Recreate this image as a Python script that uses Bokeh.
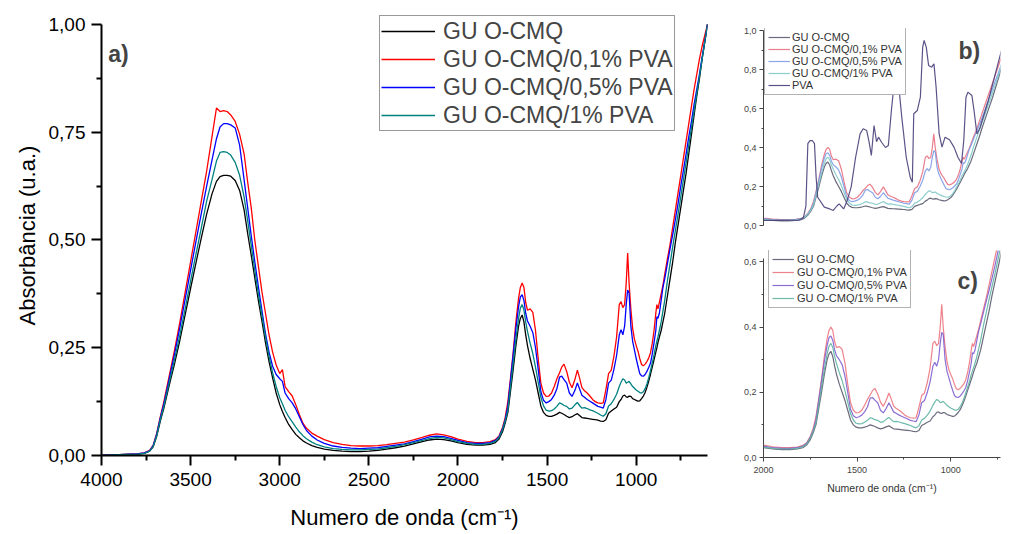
from bokeh.plotting import figure
from bokeh.layouts import row, column
from bokeh.models import (Range1d, FixedTicker, Legend, LegendItem, Label,
                          CustomJSTickFormatter, ColumnDataSource)
from bokeh.embed import file_html
from bokeh.resources import INLINE

# ---------------- data ----------------
wavenumber = [
    4000, 3900, 3800, 3760, 3730, 3710, 3690, 3670, 3650, 3620,
    3590, 3560, 3530, 3500, 3470, 3440, 3410, 3380, 3355, 3335,
    3315, 3295, 3275, 3250, 3225, 3200, 3180, 3160, 3140, 3120,
    3100, 3080, 3060, 3040, 3020, 3000, 2985, 2970, 2950, 2930,
    2910, 2890, 2870, 2850, 2820, 2790, 2750, 2700, 2650, 2600,
    2550, 2500, 2450, 2400, 2350, 2300, 2250, 2200, 2160, 2120,
    2080, 2040, 2000, 1950, 1900, 1860, 1820, 1790, 1770,
    1750, 1735, 1720, 1705, 1690, 1675, 1660, 1650, 1640, 1630,
    1620, 1610, 1595, 1580, 1565, 1550, 1535, 1520, 1505, 1490,
    1475, 1460, 1445, 1430, 1418, 1405, 1390, 1375, 1360, 1345,
    1330, 1318, 1305, 1290, 1275, 1260, 1245, 1230, 1215, 1200,
    1185, 1170, 1155, 1140, 1125, 1110, 1095, 1085, 1075, 1065,
    1056, 1048, 1040, 1030, 1020, 1010, 1000, 990, 980, 970,
    960, 950, 940, 930, 920, 910, 900, 890, 884, 878,
    870, 860, 850, 840, 825, 810, 795, 780, 765, 750,
    735, 720, 705, 690, 675, 660, 645, 630, 615, 600,
]

gu_ocmq = [
    0.000, 0.002, 0.003, 0.005, 0.010, 0.020, 0.045, 0.080, 0.110, 0.163,
    0.213, 0.268, 0.328, 0.388, 0.447, 0.505, 0.560, 0.607, 0.636, 0.647,
    0.650, 0.650, 0.648, 0.638, 0.615, 0.570, 0.515, 0.465, 0.412, 0.360,
    0.312, 0.262, 0.218, 0.180, 0.145, 0.118, 0.102, 0.088, 0.072, 0.060,
    0.049, 0.041, 0.034, 0.029, 0.023, 0.019, 0.015, 0.012, 0.010, 0.009,
    0.009, 0.010, 0.012, 0.015, 0.018, 0.022, 0.027, 0.032, 0.036, 0.038,
    0.037, 0.034, 0.030, 0.026, 0.024, 0.024, 0.026, 0.030, 0.038,
    0.055, 0.075, 0.100, 0.150, 0.200, 0.255, 0.300, 0.318, 0.326, 0.310,
    0.280, 0.255, 0.225, 0.200, 0.175, 0.145, 0.115, 0.100, 0.093, 0.091,
    0.091, 0.093, 0.096, 0.100, 0.098, 0.095, 0.091, 0.088, 0.090, 0.094,
    0.097, 0.093, 0.088, 0.087, 0.086, 0.085, 0.084, 0.083, 0.082, 0.080,
    0.079, 0.083, 0.098, 0.103, 0.108, 0.112, 0.125, 0.130, 0.138, 0.140,
    0.136, 0.135, 0.138, 0.137, 0.132, 0.130, 0.128, 0.126, 0.127, 0.132,
    0.138, 0.146, 0.158, 0.172, 0.188, 0.205, 0.222, 0.240, 0.250, 0.262,
    0.275, 0.290, 0.310, 0.330, 0.370, 0.410, 0.450, 0.495, 0.535, 0.575,
    0.615, 0.655, 0.700, 0.745, 0.790, 0.835, 0.875, 0.920, 0.960, 1.000,
]

gu_pva_01 = [
    0.000, 0.002, 0.004, 0.006, 0.012, 0.024, 0.052, 0.090, 0.125, 0.185,
    0.245, 0.310, 0.380, 0.450, 0.520, 0.590, 0.660, 0.740, 0.806, 0.798,
    0.800, 0.798, 0.790, 0.775, 0.745, 0.700, 0.635, 0.575, 0.500, 0.440,
    0.380, 0.330, 0.280, 0.240, 0.210, 0.190, 0.199, 0.160, 0.148, 0.138,
    0.118, 0.095, 0.075, 0.063, 0.052, 0.045, 0.037, 0.030, 0.026, 0.023,
    0.022, 0.022, 0.023, 0.025, 0.028, 0.031, 0.036, 0.042, 0.047, 0.050,
    0.048, 0.044, 0.038, 0.033, 0.030, 0.030, 0.032, 0.037, 0.045,
    0.065, 0.088, 0.125, 0.180, 0.240, 0.310, 0.365, 0.390, 0.400, 0.390,
    0.355, 0.337, 0.340, 0.332, 0.290, 0.225, 0.168, 0.145, 0.137, 0.138,
    0.145, 0.160, 0.178, 0.192, 0.205, 0.212, 0.195, 0.170, 0.157, 0.175,
    0.198, 0.180, 0.158, 0.150, 0.145, 0.138, 0.130, 0.125, 0.122, 0.121,
    0.122, 0.153, 0.190, 0.198, 0.230, 0.275, 0.350, 0.357, 0.343, 0.350,
    0.400, 0.470, 0.400, 0.340, 0.295, 0.270, 0.255, 0.242, 0.225, 0.211,
    0.208, 0.212, 0.218, 0.226, 0.238, 0.260, 0.290, 0.330, 0.350, 0.340,
    0.355, 0.375, 0.395, 0.420, 0.456, 0.490, 0.530, 0.570, 0.610, 0.650,
    0.690, 0.730, 0.770, 0.810, 0.850, 0.885, 0.920, 0.950, 0.975, 1.000,
]

gu_pva_05 = [
    0.000, 0.002, 0.004, 0.006, 0.011, 0.023, 0.050, 0.087, 0.120, 0.178,
    0.236, 0.298, 0.364, 0.430, 0.497, 0.562, 0.625, 0.685, 0.735, 0.762,
    0.770, 0.770, 0.767, 0.760, 0.720, 0.640, 0.575, 0.510, 0.450, 0.392,
    0.337, 0.283, 0.240, 0.207, 0.188, 0.178, 0.172, 0.145, 0.132, 0.122,
    0.108, 0.090, 0.072, 0.058, 0.045, 0.036, 0.028, 0.022, 0.019, 0.017,
    0.016, 0.017, 0.018, 0.021, 0.024, 0.027, 0.032, 0.038, 0.043, 0.045,
    0.044, 0.040, 0.035, 0.030, 0.028, 0.028, 0.030, 0.035, 0.043,
    0.062, 0.083, 0.115, 0.175, 0.235, 0.295, 0.345, 0.368, 0.373, 0.360,
    0.330, 0.312, 0.300, 0.285, 0.250, 0.200, 0.148, 0.128, 0.122, 0.125,
    0.130, 0.140, 0.155, 0.182, 0.184, 0.176, 0.168, 0.145, 0.137, 0.150,
    0.168, 0.155, 0.140, 0.135, 0.130, 0.126, 0.122, 0.118, 0.114, 0.112,
    0.110, 0.130, 0.168, 0.175, 0.200, 0.232, 0.280, 0.292, 0.280, 0.300,
    0.350, 0.384, 0.377, 0.300, 0.265, 0.245, 0.225, 0.207, 0.190, 0.185,
    0.184, 0.188, 0.195, 0.204, 0.214, 0.235, 0.262, 0.290, 0.322, 0.318,
    0.330, 0.360, 0.390, 0.410, 0.445, 0.480, 0.513, 0.548, 0.585, 0.625,
    0.662, 0.700, 0.740, 0.775, 0.815, 0.850, 0.885, 0.925, 0.962, 1.000,
]

gu_pva_1 = [
    0.000, 0.002, 0.003, 0.005, 0.010, 0.021, 0.047, 0.083, 0.114, 0.169,
    0.223, 0.280, 0.342, 0.405, 0.467, 0.528, 0.590, 0.640, 0.683, 0.703,
    0.705, 0.703, 0.697, 0.680, 0.650, 0.600, 0.545, 0.488, 0.430, 0.375,
    0.325, 0.275, 0.230, 0.192, 0.160, 0.134, 0.120, 0.105, 0.090, 0.078,
    0.066, 0.055, 0.046, 0.039, 0.031, 0.025, 0.020, 0.016, 0.014, 0.013,
    0.013, 0.014, 0.015, 0.018, 0.021, 0.025, 0.030, 0.035, 0.039, 0.042,
    0.041, 0.037, 0.032, 0.028, 0.026, 0.026, 0.028, 0.033, 0.041,
    0.060, 0.080, 0.105, 0.160, 0.215, 0.270, 0.318, 0.342, 0.350, 0.338,
    0.310, 0.288, 0.260, 0.236, 0.205, 0.170, 0.135, 0.115, 0.105, 0.103,
    0.104, 0.108, 0.114, 0.122, 0.120, 0.116, 0.114, 0.108, 0.110, 0.117,
    0.123, 0.116, 0.110, 0.111, 0.109, 0.106, 0.104, 0.101, 0.098, 0.094,
    0.091, 0.097, 0.115, 0.120, 0.130, 0.142, 0.160, 0.170, 0.178, 0.175,
    0.168, 0.170, 0.172, 0.166, 0.160, 0.156, 0.152, 0.149, 0.146, 0.145,
    0.148, 0.155, 0.166, 0.180, 0.197, 0.215, 0.233, 0.255, 0.265, 0.275,
    0.290, 0.310, 0.335, 0.360, 0.405, 0.445, 0.485, 0.523, 0.560, 0.600,
    0.640, 0.680, 0.720, 0.760, 0.800, 0.840, 0.880, 0.920, 0.960, 1.000,
]

# PVA spectrum (inset b only)
pva_wavenumber = [
    2000, 1900, 1800, 1777, 1763, 1752, 1740, 1727, 1715, 1706,
    1697, 1660, 1630, 1610, 1590, 1577, 1552, 1535, 1510, 1485,
    1460, 1443, 1423, 1410, 1397, 1382, 1368, 1357, 1340, 1318,
    1302, 1285, 1268, 1257, 1243, 1227, 1202, 1180, 1168, 1160,
    1140, 1123, 1110, 1102, 1090, 1077, 1060, 1047, 1035, 1018,
    1002, 985, 960, 935, 913, 893, 880, 868, 857, 835,
    823, 807, 790, 777, 743, 670,
]
pva = [
    0.026, 0.026, 0.028, 0.040, 0.100, 0.420, 0.435, 0.436, 0.420, 0.250,
    0.145, 0.094, 0.085, 0.077, 0.100, 0.111, 0.085, 0.120, 0.197, 0.350,
    0.470, 0.496, 0.487, 0.430, 0.359, 0.513, 0.430, 0.453, 0.427, 0.400,
    0.410, 0.590, 0.744, 0.752, 0.709, 0.556, 0.350, 0.248, 0.222, 0.573,
    0.590, 0.658, 0.915, 0.949, 0.915, 0.821, 0.812, 0.829, 0.709, 0.470,
    0.402, 0.453, 0.440, 0.402, 0.350, 0.318, 0.440, 0.658, 0.684, 0.667,
    0.590, 0.470, 0.500, 0.540, 0.640, 0.897,
]

series_names = ["GU O-CMQ", "GU O-CMQ/0,1% PVA", "GU O-CMQ/0,5% PVA", "GU O-CMQ/1% PVA"]
pva_name = "PVA"

main_x_ticks = [4000, 3500, 3000, 2500, 2000, 1500, 1000]
main_x_labels = ["4000", "3500", "3000", "2500", "2000", "1500", "1000"]
main_x_minor = [3750, 3250, 2750, 2250, 1750, 1250, 750]
main_y_ticks = [0, 0.25, 0.5, 0.75, 1.0]
main_y_labels = ["0,00", "0,25", "0,50", "0,75", "1,00"]
main_y_minor = [0.125, 0.375, 0.625, 0.875]

b_y_ticks = [0, 0.2, 0.4, 0.6, 0.8, 1.0]
b_y_labels = ["0,0", "0,2", "0,4", "0,6", "0,8", "1,0"]
b_y_minor = [0.1, 0.3, 0.5, 0.7, 0.9]
c_y_ticks = [0, 0.2, 0.4, 0.6]
c_y_labels = ["0,0", "0,2", "0,4", "0,6"]
c_y_minor = [0.1, 0.3, 0.5]
c_x_ticks = [2000, 1500, 1000]
c_x_labels = ["2000", "1500", "1000"]
c_x_minor = [1750, 1250, 750]

x_title = "Numero de onda (cm\u207b\u00b9)"
y_title = "Absorb\u00e2ncia (u.a.)"

main_colors = ["#000000", "#ff0000", "#0000ff", "#008080"]
b_colors = ["#5a5a6e", "#e8707f", "#7d9be6", "#7ec9c6", "#4a3f7a"]
c_colors = ["#5a5a6e", "#ec7680", "#7f5fcf", "#5fb3a3"]

FONT = "Liberation Sans"


def fmt(tick_values, tick_labels):
    return CustomJSTickFormatter(args=dict(tv=tick_values, tl=tick_labels), code="""
        for (let i = 0; i < tv.length; i++) {
            if (Math.abs(tv[i] - tick) < 1e-6) return tl[i];
        }
        return '';
    """)


def style_axis(ax, tick_values, tick_labels, minor, size, tick_out, minor_out, width, color, standoff):
    ax.ticker = FixedTicker(ticks=tick_values, minor_ticks=minor)
    ax.formatter = fmt(tick_values, tick_labels)
    ax.major_label_text_font = FONT
    ax.major_label_text_font_size = size
    ax.major_label_text_color = color
    ax.axis_line_color = color
    ax.axis_line_width = width
    ax.major_tick_line_color = color
    ax.major_tick_line_width = width
    ax.minor_tick_line_color = color
    ax.minor_tick_line_width = width
    ax.major_tick_out = tick_out
    ax.major_tick_in = 0
    ax.minor_tick_out = minor_out
    ax.minor_tick_in = 0
    ax.major_label_standoff = standoff


src = ColumnDataSource(dict(x=wavenumber, s0=gu_ocmq, s1=gu_pva_01, s2=gu_pva_05, s3=gu_pva_1))

# ---------------- main panel a) ----------------
p = figure(width=740, height=532, x_range=Range1d(4000, 600), y_range=Range1d(0, 1.0208),
           output_backend="svg", toolbar_location=None,
           min_border_left=101, min_border_right=33, min_border_top=15, min_border_bottom=76)
p.outline_line_color = None
p.xgrid.visible = False
p.ygrid.visible = False
p.background_fill_color = "white"
p.border_fill_color = "white"

style_axis(p.xaxis[0], main_x_ticks, main_x_labels, main_x_minor, "19px", 10, 5, 2, "black", 7)
style_axis(p.yaxis[0], main_y_ticks, main_y_labels, main_y_minor, "19px", 10, 5, 2, "black", 6)
p.yaxis.bounds = (0, 1.0)
p.xaxis.axis_label = x_title
p.yaxis.axis_label = y_title
for ax in (p.xaxis[0], p.yaxis[0]):
    ax.axis_label_text_font = FONT
    ax.axis_label_text_font_size = "22px"
    ax.axis_label_text_font_style = "normal"
    ax.axis_label_text_color = "black"
p.xaxis.axis_label_standoff = 16
p.yaxis.axis_label_standoff = 6

main_items = []
for i, name in enumerate(series_names):
    r = p.line("x", "s%d" % i, source=src, line_color=main_colors[i], line_width=1.3)
    main_items.append(LegendItem(label=name, renderers=[r]))

leg = Legend(items=main_items, location=(278, 324), label_text_font=FONT,
             label_text_font_size="23px", glyph_width=54, glyph_height=28,
             label_standoff=8, spacing=0, padding=1, margin=0,
             border_line_color="#333333", border_line_width=1.5,
             background_fill_color="white", background_fill_alpha=1.0)
p.add_layout(leg)
p.add_layout(Label(x=3962, y=0.962, text="a)", text_baseline="top", text_font=FONT,
                   text_font_size="23px", text_font_style="bold"))

# ---------------- inset b) ----------------
pb = figure(width=287, height=240, x_range=Range1d(2000, 675), y_range=Range1d(0, 1.0103),
            output_backend="svg", toolbar_location=None,
            min_border_left=22, min_border_right=0, min_border_top=28, min_border_bottom=15)
pb.outline_line_color = None
pb.xgrid.visible = False
pb.ygrid.visible = False
pb.xaxis.visible = False
style_axis(pb.yaxis[0], b_y_ticks, b_y_labels, b_y_minor, "9px", 4, 2, 1, "#444444", 3)
pb.yaxis.bounds = (0, 1.0)

b_items = []
for i, name in enumerate(series_names):
    r = pb.line("x", "s%d" % i, source=src, line_color=b_colors[i], line_width=1.2, line_alpha=0.9)
    b_items.append(LegendItem(label=name, renderers=[r]))
rp = pb.line(pva_wavenumber, pva, line_color=b_colors[4], line_width=1.2, line_alpha=0.9)
b_items.append(LegendItem(label=pva_name, renderers=[rp]))
leg_b = Legend(items=b_items, location=(1, 130), label_text_font=FONT,
               label_text_font_size="11px", label_text_color="#333333",
               glyph_width=22, glyph_height=12, label_height=12, label_standoff=2,
               spacing=0, padding=3, margin=0,
               border_line_color="#666666", border_line_width=1,
               background_fill_color="white", background_fill_alpha=1.0)
pb.add_layout(leg_b)
pb.add_layout(Label(x=910, y=0.96, text="b)", text_baseline="top", text_font=FONT,
                    text_font_size="23px", text_font_style="bold"))

# ---------------- inset c) ----------------
pc = figure(width=287, height=292, x_range=Range1d(2000, 734), y_range=Range1d(0, 0.635),
            output_backend="svg", toolbar_location=None,
            min_border_left=23, min_border_right=27, min_border_top=10, min_border_bottom=75)
pc.outline_line_color = None
pc.xgrid.visible = False
pc.ygrid.visible = False
style_axis(pc.xaxis[0], c_x_ticks, c_x_labels, c_x_minor, "9px", 4, 2, 1, "#444444", 5)
style_axis(pc.yaxis[0], c_y_ticks, c_y_labels, c_y_minor, "9px", 4, 2, 1, "#444444", 3)
pc.yaxis.bounds = (0, 0.61)
pc.xaxis.axis_label = x_title
pc.xaxis.axis_label_text_font = FONT
pc.xaxis.axis_label_text_font_size = "10.5px"
pc.xaxis.axis_label_text_font_style = "normal"
pc.xaxis.axis_label_text_color = "#333333"
pc.xaxis.axis_label_standoff = 6

c_items = []
for i, name in enumerate(series_names):
    r = pc.line("x", "s%d" % i, source=src, line_color=c_colors[i], line_width=1.2, line_alpha=0.9)
    c_items.append(LegendItem(label=name, renderers=[r]))
leg_c = Legend(items=c_items, location=(5, 149), label_text_font=FONT,
               label_text_font_size="11px", label_text_color="#333333",
               glyph_width=22, glyph_height=12, label_height=12, label_standoff=3,
               spacing=1, padding=3, margin=0,
               border_line_color="#666666", border_line_width=1,
               background_fill_color="white", background_fill_alpha=1.0)
pc.add_layout(leg_c)
pc.add_layout(Label(x=964, y=0.58, text="c)", text_baseline="top", text_font=FONT,
                    text_font_size="23px", text_font_style="bold"))

layout = row(p, column(pb, pc))
open("out.html", "w").write(file_html(layout, INLINE))
